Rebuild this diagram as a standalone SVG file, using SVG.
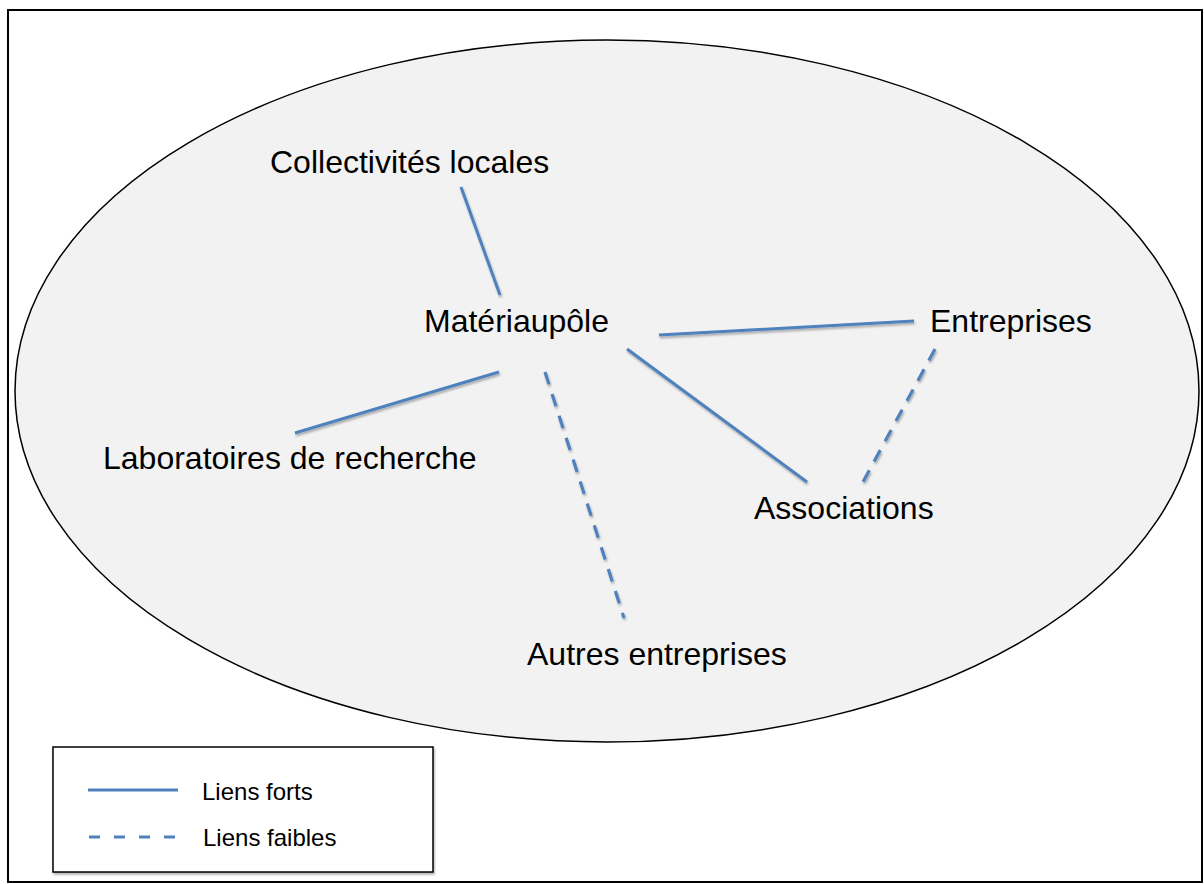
<svg xmlns="http://www.w3.org/2000/svg" width="1204" height="884" viewBox="0 0 1204 884">
  <style>
    .lbl { font-family: "Liberation Sans", Arial, sans-serif; font-size: 32px; fill: #000; }
    .leg { font-family: "Liberation Sans", Arial, sans-serif; font-size: 24px; fill: #000; }
    .strong { stroke: #4F81BD; stroke-width: 3; fill: none; }
    .weak { stroke: #4F81BD; stroke-width: 3.2; fill: none; stroke-dasharray: 13 10; }
    .weakleg { stroke: #4F81BD; stroke-width: 3.2; fill: none; stroke-dasharray: 11 14; }
  </style>
  <defs>
    <filter id="sh" x="-10%" y="-10%" width="120%" height="130%">
      <feDropShadow dx="1" dy="2" stdDeviation="1.2" flood-color="#000" flood-opacity="0.3"/>
    </filter>
  </defs>
  <rect id="frame" x="8" y="10" width="1194" height="872" fill="#fff" stroke="#000" stroke-width="2"/>
  <ellipse id="cluster" cx="607" cy="391" rx="592" ry="351" fill="#f2f2f2" stroke="#000" stroke-width="1.5"/>

  <g id="connectors" filter="url(#sh)">
    <line class="strong" x1="461" y1="187" x2="500" y2="295"/>
    <line class="strong" x1="659" y1="335" x2="914" y2="321"/>
    <line class="strong" x1="499" y1="372" x2="295" y2="433"/>
    <line class="strong" x1="627" y1="349" x2="807" y2="482"/>
    <line class="weak" x1="545" y1="372" x2="624" y2="618"/>
    <line class="weak" x1="935" y1="349" x2="863" y2="482"/>
  </g>

  <g id="collectivites"><text class="lbl" x="270" y="173">Collectivités locales</text></g>
  <g id="materiaupole"><text class="lbl" x="424" y="332">Matériaupôle</text></g>
  <g id="entreprises"><text class="lbl" x="930" y="332">Entreprises</text></g>
  <g id="laboratoires"><text class="lbl" x="103" y="469">Laboratoires de recherche</text></g>
  <g id="associations"><text class="lbl" x="754" y="519">Associations</text></g>
  <g id="autres"><text class="lbl" x="527" y="665">Autres entreprises</text></g>

  <g id="legend">
    <rect x="53" y="747" width="380" height="125" fill="#fff" stroke="#000" stroke-width="1.5" filter="url(#sh)"/>
    <line class="strong" x1="88" y1="790" x2="178" y2="790"/>
    <text class="leg" x="202" y="800">Liens forts</text>
    <line class="weakleg" x1="89" y1="837" x2="178" y2="837"/>
    <text class="leg" x="203" y="846">Liens faibles</text>
  </g>
</svg>
